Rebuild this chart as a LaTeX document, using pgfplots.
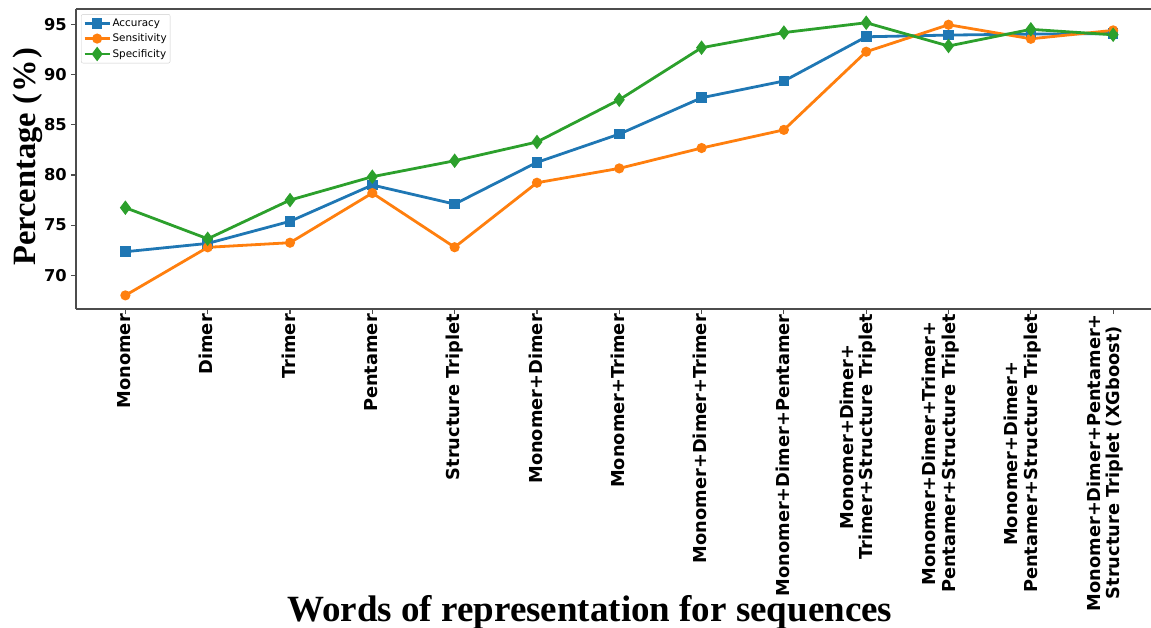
\documentclass[border=0pt]{standalone}
\usepackage{fontspec}
\setmainfont{Liberation Serif}
\newfontfamily\djv{DejaVu Sans}
\usepackage{pgfplots}
\pgfplotsset{compat=1.18}
\definecolor{tabblue}{HTML}{1F77B4}
\definecolor{taborange}{HTML}{FF7F0E}
\definecolor{tabgreen}{HTML}{2CA02C}
\newcommand{\tickfont}{\djv\bfseries\fontsize{16.3}{17}\selectfont}
\newcommand{\xtickfont}{\djv\bfseries\fontsize{17.8}{17}\selectfont}
\begin{document}
\begin{tikzpicture}
\begin{axis}[
  name=ax,
  scale only axis, width=1075pt, height=300pt,
  xmin=-0.6, xmax=12.46, ymin=66.64, ymax=96.55,
  axis x line=box, axis y line=left,
  axis line style={-, draw=black!70, line width=1.4pt},
  xtick={0,...,12}, ytick={70,75,80,85,90,95},
  yticklabels={70,75,80,85,90,95},
  xtick pos=bottom, ytick pos=left,
  tick align=outside, major tick length=5pt,
  tick style={draw=black!70, line width=1.2pt},
  tick label style={font=\tickfont, inner sep=0pt},
  xticklabel style={font=\xtickfont, rotate=90, anchor=east, align=center, yshift=-1pt},
  yticklabel style={xshift=-4pt},
  xticklabels={
    \strut Monomer,
    \strut Dimer,
    \strut Trimer,
    \strut Pentamer,
    \strut Structure Triplet,
    \strut Monomer+Dimer,
    \strut Monomer+Trimer,
    \strut Monomer+Dimer+Trimer,
    \strut Monomer+Dimer+Pentamer,
    {\strut Monomer+Dimer+\\\strut Trimer+Structure Triplet\\\strut},
    {\strut Monomer+Dimer+Trimer+\\\strut Pentamer+Structure Triplet\\\strut},
    {\strut Monomer+Dimer+\\\strut Pentamer+Structure Triplet\\\strut},
    {\strut Monomer+Dimer+Pentamer+\\\strut Structure Triplet (XGboost)\\\strut}
  },
  xlabel={Words of representation for sequences},
  xlabel style={font=\bfseries\fontsize{37}{40}\selectfont, at={(axis description cs:0.478,-1.04)}, anchor=base},
  ylabel={Percentage (\kern1.5pt\%\kern1.5pt)},
  ylabel style={font=\bfseries\fontsize{32.5}{36}\selectfont, at={(axis description cs:-0.0381,0.508)}, anchor=base, rotate=0},
  legend style={at={(axis description cs:0.0047,0.983)}, anchor=north west,
    font=\djv\fontsize{10.4}{12.5}\selectfont, draw=black!20, fill=white,
    rounded corners=2pt, inner xsep=2pt, inner ysep=3pt, row sep=3pt,
    nodes={inner sep=1.5pt}},
  legend cell align=left,
  legend image code/.code={\draw[mark repeat=2,mark phase=2] plot coordinates {(0pt,0pt) (12.5pt,0pt) (25pt,0pt)};},
]
\addplot[tabblue, line width=2.8pt, mark=square*, mark size=3.9pt, mark options={solid}] coordinates {
(0,72.35) (1,73.18) (2,75.38) (3,79.0) (4,77.1) (5,81.26) (6,84.08) (7,87.7) (8,89.37) (9,93.78) (10,93.95) (11,94.05) (12,94.1)};
\addlegendentry{Accuracy}
\addplot[taborange, line width=2.8pt, mark=*, mark size=3.6pt, mark options={solid}] coordinates {
(0,68.0) (1,72.79) (2,73.25) (3,78.2) (4,72.8) (5,79.23) (6,80.66) (7,82.69) (8,84.5) (9,92.29) (10,94.98) (11,93.58) (12,94.42)};
\addlegendentry{Sensitivity}
\addplot[tabgreen, line width=2.8pt, mark=diamond*, mark size=5pt, mark options={solid}] coordinates {
(0,76.74) (1,73.64) (2,77.5) (3,79.83) (4,81.42) (5,83.29) (6,87.5) (7,92.69) (8,94.2) (9,95.18) (10,92.86) (11,94.52) (12,93.98)};
\addlegendentry{Specificity}
\end{axis}
\pgfresetboundingbox
\path[use as bounding box] ([xshift=-76pt,yshift=-318pt]ax.south west) rectangle ([yshift=9pt]ax.north east);
\end{tikzpicture}
\end{document}
